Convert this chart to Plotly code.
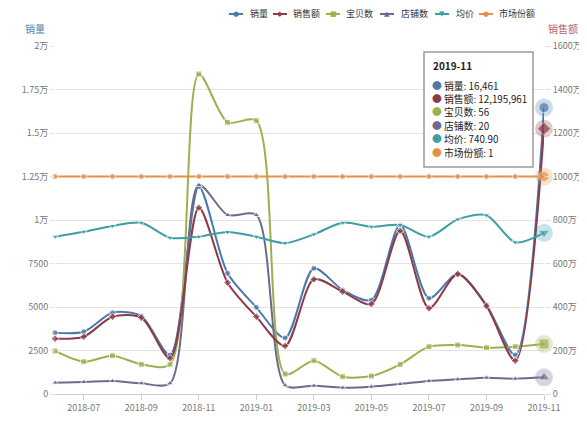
import plotly.graph_objects as go

months = ["2018-06", "2018-07", "2018-08", "2018-09", "2018-10", "2018-11",
          "2018-12", "2019-01", "2019-02", "2019-03", "2019-04", "2019-05",
          "2019-06", "2019-07", "2019-08", "2019-09", "2019-10", "2019-11"]

sales_volume = [3523, 3580, 4672, 4483, 2241, 11914, 6937, 4983, 3220, 7224,
                5977, 5402, 9713, 5500, 6897, 5115, 2241, 16461]
sales_amount = [2543000, 2635000, 3554000, 3508000, 1641000, 8566000, 5118000,
                3554000, 2207000, 5274000, 4704000, 4138000, 7509000, 3940000,
                5518000, 4046000, 1531000, 12195961]
item_count = [2471, 1856, 2201, 1707, 1707, 18391, 15615, 15707, 1149, 1916,
              996, 1034, 1705, 2720, 2816, 2663, 2720, 2874]
shop_count = [649, 690, 747, 615, 615, 12011, 10287, 10287, 500, 479, 362, 420,
              575, 747, 843, 938, 881, 958]
avg_price = [7233000, 7463000, 7725000, 7876000, 7187000, 7233000, 7449000,
             7233000, 6940000, 7341000, 7878000, 7694000, 7771000, 7233000,
             8031000, 8215000, 6975000, 7409000]
market_share = [10000000, 10000000, 10000000, 10000000, 10000000, 10000000,
                10000000, 10000000, 10000000, 10000000, 10000000, 10000000,
                10000000, 10000000, 10000000, 10000000, 10000000, 10000000]

x_tick_labels = ["2018-07", "2018-09", "2018-11", "2019-01", "2019-03",
                 "2019-05", "2019-07", "2019-09", "2019-11"]
left_ticks = [0, 2500, 5000, 7500, 10000, 12500, 15000, 17500, 20000]
left_tick_labels = ["0", "2500", "5000", "7500", "1万", "1.25万", "1.5万", "1.75万", "2万"]
right_ticks = [0, 2000000, 4000000, 6000000, 8000000, 10000000, 12000000, 14000000, 16000000]
right_tick_labels = ["0", "200万", "400万", "600万", "800万", "1000万", "1200万", "1400万", "1600万"]

tooltip_title = "2019-11"
tooltip_items = [("销量", "16,461"), ("销售额", "12,195,961"), ("宝贝数", "56"),
                 ("店铺数", "20"), ("均价", "740.90"), ("市场份额", "1")]

FONT = "Noto Sans CJK SC"
# name, values, axis, color, marker symbol, legend glyph
series = [
    ("销量", sales_volume, "y", "#4a7aab", "circle", "●"),
    ("销售额", sales_amount, "y2", "#8e3a48", "diamond", "◆"),
    ("宝贝数", item_count, "y", "#9cb050", "square", "■"),
    ("店铺数", shop_count, "y", "#6e6a8e", "triangle-up", "▲"),
    ("均价", avg_price, "y2", "#3d9da8", "triangle-down", "▼"),
    ("市场份额", market_share, "y2", "#e3924a", "circle", "●"),
]

# plot area in page pixels: x 55..544, y 46..394
def px(x):
    return (x - 55) / 489.0

def py(y):
    return (394 - y) / 348.0

fig = go.Figure()
n = len(months)
for name, vals, ax, color, sym, g in series:
    sizes = [6] * (n - 1) + [10]
    fig.add_trace(go.Scatter(
        x=months, y=vals, yaxis=ax, name=name, mode="lines+markers",
        line=dict(color=color, width=2, shape="spline", smoothing=0.8),
        marker=dict(symbol=sym, size=sizes, color=color),
        cliponaxis=False, showlegend=False))
for name, vals, ax, color, sym, g in series:
    fig.add_trace(go.Scatter(
        x=[months[-1]], y=[vals[-1]], yaxis=ax, mode="markers",
        marker=dict(symbol="circle", size=18, color=color, opacity=0.28),
        showlegend=False, hoverinfo="skip", cliponaxis=False))

# legend (drawn as shapes + text)
legend_sym_x = [236, 280, 333, 387, 442, 486]
legend_txt_x = [248, 291, 344, 399, 454, 497]
ly = py(14)
for (name, vals, ax, color, sym, g), sx, tx in zip(series, legend_sym_x, legend_txt_x):
    fig.add_shape(type="line", xref="paper", yref="paper", x0=px(sx - 7), x1=px(sx + 7),
                  y0=ly, y1=ly, line=dict(color=color, width=2))
    fig.add_annotation(xref="paper", yref="paper", x=px(sx), y=ly, text=g,
                       showarrow=False, xanchor="center", yanchor="middle",
                       font=dict(family="DejaVu Sans", size=7, color=color))
    fig.add_annotation(xref="paper", yref="paper", x=px(tx), y=ly, text=name,
                       showarrow=False, xanchor="left", yanchor="middle",
                       font=dict(family=FONT, size=9, color="#333"))

# tooltip box
fig.add_shape(type="rect", xref="paper", yref="paper", layer="above",
              x0=px(424), x1=px(533), y0=py(167), y1=py(52),
              fillcolor="rgba(255,255,255,0.9)", line=dict(color="#9a9a9a", width=1.5))
fig.add_annotation(xref="paper", yref="paper", x=px(431), y=py(65), xanchor="left",
                   yanchor="middle", text=f"<b>{tooltip_title}</b>", showarrow=False,
                   font=dict(family=FONT, size=10, color="#222"))
for i, ((name, val), s) in enumerate(zip(tooltip_items, series)):
    fig.add_annotation(xref="paper", yref="paper", x=px(430), y=py(85.5 + 13.4 * i),
                       xanchor="left", yanchor="middle",
                       text=f"<span style='color:{s[3]}'>●</span> {name}: {val}",
                       showarrow=False, font=dict(family=FONT, size=9.8, color="#222"))

fig.add_annotation(xref="paper", yref="paper", x=px(35), y=py(28), xanchor="center",
                   yanchor="middle", text="销量", showarrow=False,
                   font=dict(family=FONT, size=10, color="#5a7fa6"))
fig.add_annotation(xref="paper", yref="paper", x=px(563), y=py(28), xanchor="center",
                   yanchor="middle", text="销售额", showarrow=False,
                   font=dict(family=FONT, size=10, color="#b36272"))

fig.update_layout(
    width=579, height=421,
    margin=dict(l=47, r=43, t=38, b=35, autoexpand=False),
    paper_bgcolor="white", plot_bgcolor="white",
    font=dict(family=FONT, size=9, color="#777"),
    showlegend=False,
    xaxis=dict(type="category", categoryorder="array", categoryarray=months,
               range=[0, n - 1], tickvals=x_tick_labels,
               ticktext=x_tick_labels, showgrid=False, showline=True,
               linecolor="#cccccc", linewidth=1, ticks="outside", ticklen=5,
               tickcolor="#cccccc", tickfont=dict(size=9, color="#777"),
               zeroline=False),
    yaxis=dict(range=[0, 20000], tickvals=left_ticks, ticktext=left_tick_labels,
               showgrid=True, gridcolor="#e3e3e3", gridwidth=1, showline=False,
               zeroline=False, ticks="outside", ticklen=4, tickcolor="#e3e3e3",
               tickfont=dict(size=9, color="#777")),
    yaxis2=dict(range=[0, 16000000], tickvals=right_ticks, ticktext=right_tick_labels,
                overlaying="y", side="right", showgrid=False, showline=False,
                zeroline=False, ticks="outside", ticklen=6, tickcolor="#e3e3e3",
                tickfont=dict(size=9, color="#777")),
)

fig.write_html("out.html")
